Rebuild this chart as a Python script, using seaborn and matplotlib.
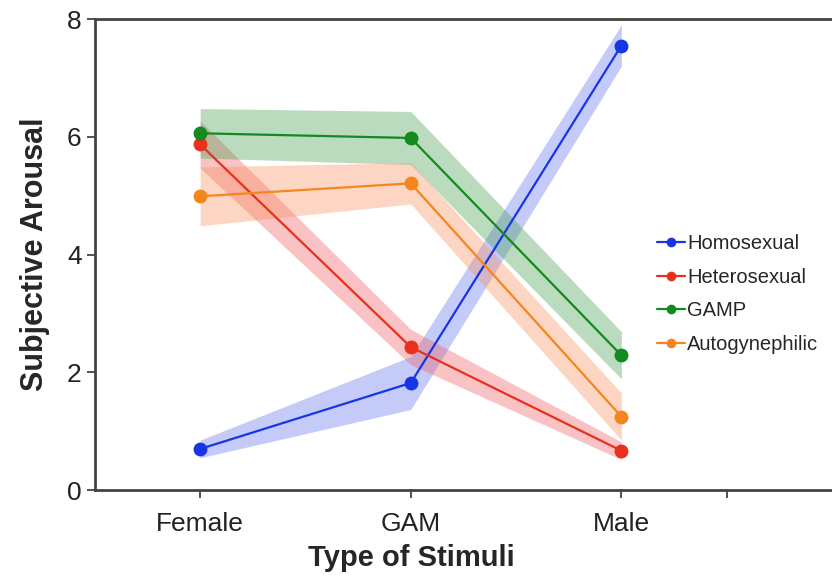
import numpy as np
import pandas as pd
import matplotlib
matplotlib.use("Agg")
import matplotlib.pyplot as plt
import seaborn as sns

# data
stimuli = ["Female", "GAM", "Male"]
groups = ["Homosexual", "Heterosexual", "GAMP", "Autogynephilic"]

homo_mean = [0.70, 1.82, 7.55]
homo_err = [0.15, 0.45, 0.35]
hetero_mean = [5.87, 2.43, 0.67]
hetero_err = [0.40, 0.30, 0.15]
gamp_mean = [6.06, 5.98, 2.29]
gamp_err = [0.42, 0.45, 0.40]
auto_mean = [4.99, 5.21, 1.25]
auto_err = [0.50, 0.35, 0.40]

line_colors = ["#1636e6", "#e8301c", "#138a1f", "#f5861e"]
band_colors = ["#5b6cf0", "#f0555a", "#3c9a4a", "#fb8a55"]

means = [homo_mean, hetero_mean, gamp_mean, auto_mean]
errs = [homo_err, hetero_err, gamp_err, auto_err]

rows = []
for g, m in zip(groups, means):
    for i, s in enumerate(stimuli):
        rows.append({"group": g, "stim": s, "pos": i + 1, "arousal": m[i]})
df = pd.DataFrame(rows)

sns.set_style("ticks")
plt.rcParams['font.family'] = ['Liberation Sans', 'DejaVu Sans']

fig = plt.figure(figsize=(8.32, 5.76), dpi=100)
ax = fig.add_axes([0.114, 0.149, 0.886, 0.818])

# shaded error bands
for g, m, e, c in zip(groups, means, errs, band_colors):
    pos = np.arange(1, len(stimuli) + 1)
    m = np.array(m)
    e = np.array(e)
    ax.fill_between(pos, m - e, m + e, color=c, alpha=0.35, linewidth=0, zorder=1)

sns.lineplot(data=df, x="pos", y="arousal", hue="group", hue_order=groups,
             palette=line_colors, marker="o", markersize=10, markeredgewidth=0,
             linewidth=1.6, ax=ax, zorder=3)

ax.set_xlim(0.5, 4.0)
ax.set_ylim(0, 8)
ax.set_xticks([1, 2, 3, 3.5])
ax.set_xticklabels(stimuli + [""])
ax.set_yticks([0, 2, 4, 6, 8])
ax.tick_params(axis="both", labelsize=19, length=6, width=1.2, colors="#333333", labelcolor="#222222")
ax.tick_params(axis="x", pad=10)

for side in ["left", "bottom", "top"]:
    ax.spines[side].set_linewidth(2)
    ax.spines[side].set_color("#444444")
ax.spines["right"].set_visible(False)

ax.set_xlabel("Type of Stimuli", fontsize=21, fontweight="bold")
ax.xaxis.set_label_coords(0.429, -0.115)
ax.set_ylabel("Subjective Arousal", fontsize=22, fontweight="bold", labelpad=12)

leg = ax.legend(loc="upper left", bbox_to_anchor=(0.752, 0.56), frameon=False,
                fontsize=14.5, handlelength=1.4, handletextpad=0.1, labelspacing=0.72,
                borderaxespad=0)
for h in leg.legend_handles:
    h.set_markersize(7)

plt.savefig("out.png", dpi=100)
plt.close()
